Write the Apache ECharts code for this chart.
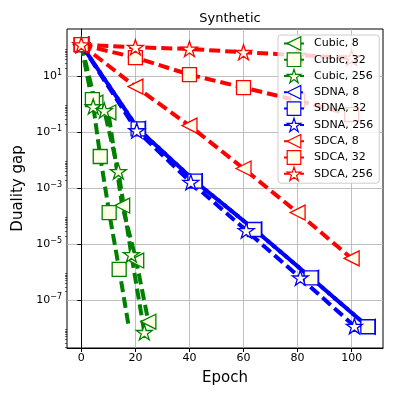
<!DOCTYPE html>
<html><head><meta charset="utf-8">
<script src="https://cdn.jsdelivr.net/npm/echarts@6/dist/echarts.min.js"></script>
<style>html,body{margin:0;padding:0;background:#fff}#c{width:399px;height:399px}</style>
</head><body><div id="c"></div>
<script>
// ---- data (epoch, duality gap) ----
const cubic8Epoch  = [0, 5.2, 10.0, 15.1, 20.3, 24.8];
const cubic8Gap    = [135, 1.15, 0.51, 2.4e-4, 2.6e-6, 1.7e-8];
const cubic32Epoch = [0, 4.1, 7.0, 10.3, 14.0, 17.4];
const cubic32Gap   = [135, 1.47, 0.0136, 1.35e-4, 1.26e-6, 1.36e-8];
const cubic32Marks = [0, 1, 2, 3, 4];
const cubic256Epoch = [0, 4.4, 8.5, 13.7, 18.5, 23.3];
const cubic256Gap   = [135, 0.83, 0.60, 4.0e-3, 4.3e-6, 7.1e-9];
const sdna8Epoch   = [0, 21, 42, 64, 85, 106];
const sdna8Gap     = [135, 0.132, 1.78e-3, 3.35e-5, 6.3e-7, 1.12e-8];
const sdna32Epoch  = [0, 21, 42, 64, 85, 106];
const sdna32Gap    = [135, 0.132, 1.78e-3, 3.35e-5, 6.3e-7, 1.12e-8];
const sdna256Epoch = [0, 20.5, 40.5, 61, 81, 101];
const sdna256Gap   = [135, 0.115, 1.64e-3, 3.08e-5, 6.3e-7, 1.18e-8];
const sdca8Epoch   = [0, 20, 40, 60, 80, 100];
const sdca8Gap     = [135, 4.28, 0.173, 5.06e-3, 1.35e-4, 3.1e-6];
const sdca32Epoch  = [0, 20, 40, 60, 80, 100];
const sdca32Gap    = [135, 46.5, 11.5, 3.95, 1.36, 0.43];
const sdca256Epoch = [0, 20, 40, 60, 80, 100];
const sdca256Gap   = [135, 109, 95, 72, 57, 45];

const xTicks = [0, 20, 40, 60, 80, 100];
const yTickExponents = [1, -1, -3, -5, -7];
const yMinorMantissas = [2, 3, 4, 5, 6, 7, 8, 9];
const yMinorExponents = [1, -1, -3, -5, -7, -9];

// ---- styling helpers ----
const FONT = 'DejaVu Sans';
const FACE = '#ffffe8';
function starPath() {
  let p = '';
  for (let i = 0; i < 10; i++) {
    const r = i % 2 === 0 ? 1 : 0.382;
    const a = -Math.PI / 2 + i * Math.PI / 5;
    p += (i ? 'L' : 'M') + (50 + 50 * r * Math.cos(a)).toFixed(2) + ',' + (50 + 50 * r * Math.sin(a)).toFixed(2) + ' ';
  }
  return 'path://' + p + 'Z';
}
const SYM = {
  tri: 'path://M0,50 L100,0 L100,100 Z',
  sq: 'rect',
  star: starPath()
};
const SIZE = { tri: 15, sq: 14, star: 16 };

function mk(name, color, sym, xs, ys, marks, dashOffset) {
  return {
    name, type: 'line', symbol: SYM[sym], symbolSize: SIZE[sym], symbolKeepAspect: true,
    showSymbol: true, showAllSymbol: true, animation: false, clip: true,
    lineStyle: { color, width: 4, type: [11, 5], dashOffset: dashOffset || 0 },
    itemStyle: { color: FACE, borderColor: color, borderWidth: 1.3 },
    emphasis: { disabled: true },
    data: xs.map((x, i) => (!marks || marks.includes(i)) ? [x, ys[i]] : { value: [x, ys[i]], symbol: 'none' })
  };
}

function fmtExp(v) {
  const e = Math.round(Math.log10(v));
  return '10{sup|' + (e < 0 ? '−' + (-e) : String(e)) + '}';
}

const minorVals = [];
yMinorExponents.forEach(e => yMinorMantissas.forEach(m => minorVals.push(m * Math.pow(10, e))));
const yMin = Math.pow(10, -8.71), yMax = Math.pow(10, 2.69);

const chart = echarts.init(document.getElementById('c'), null, { renderer: 'canvas' });
chart.setOption({
  animation: false,
  backgroundColor: '#fff',
  textStyle: { fontFamily: FONT },
  title: {
    text: 'Synthetic', left: 225, top: 7, textAlign: 'center',
    textStyle: { fontFamily: FONT, fontSize: 13, fontWeight: 'normal', color: '#000' }
  },
  grid: { left: 67, top: 29, width: 316, height: 319, show: true, borderColor: '#000', borderWidth: 1, backgroundColor: 'transparent', containLabel: false },
  legend: {
    orient: 'vertical', left: 278, top: 35,
    itemWidth: 20, itemHeight: 17, itemGap: 1.5,
    padding: [1, 6, 2, 5],
    backgroundColor: 'rgba(255,255,255,0.8)', borderColor: '#cccccc', borderWidth: 1, borderRadius: 3,
    itemStyle: { borderWidth: 1.2 },
    textStyle: { fontFamily: FONT, fontSize: 11, color: '#000', padding: [0, 0, 0, 5] },
    z: 10
  },
  xAxis: {
    type: 'value', min: -5.3, max: 111.6,
    name: 'Epoch', nameLocation: 'middle', nameGap: 23,
    nameTextStyle: { fontFamily: FONT, fontSize: 15, color: '#000' },
    axisLine: { show: true, lineStyle: { color: '#000', width: 1 } },
    axisTick: { show: true, length: 4, inside: false, customValues: xTicks, lineStyle: { color: '#000' } },
    axisLabel: { customValues: xTicks, fontFamily: FONT, fontSize: 11, color: '#000', margin: 5 },
    splitLine: { show: true, lineStyle: { color: '#b0b0b0', width: 0.8 } }
  },
  yAxis: [{
    type: 'log', logBase: 10, min: yMin, max: yMax,
    name: 'Duality gap', nameLocation: 'middle', nameGap: 34,
    nameTextStyle: { fontFamily: FONT, fontSize: 15, color: '#000' },
    axisLine: { show: true, lineStyle: { color: '#000', width: 1 } },
    axisTick: { show: true, length: 4, inside: false, customValues: yTickExponents.map(e => Math.pow(10, e)), lineStyle: { color: '#000' } },
    axisLabel: {
      customValues: yTickExponents.map(e => Math.pow(10, e)),
      formatter: fmtExp, fontFamily: FONT, fontSize: 11, color: '#000', margin: 5,
      rich: { sup: { fontFamily: FONT, fontSize: 8, padding: [0, 0, 7, 0], color: '#000' } }
    },
    splitLine: { show: true, lineStyle: { color: '#b0b0b0', width: 0.8 } }
  }, {
    type: 'log', logBase: 10, min: yMin, max: yMax, position: 'left',
    axisLine: { show: false },
    axisTick: { show: true, length: 2, inside: false, customValues: minorVals, lineStyle: { color: '#000', width: 0.6 } },
    axisLabel: { show: false },
    splitLine: { show: false }
  }],
  series: [
    mk('Cubic, 8', '#008000', 'tri', cubic8Epoch, cubic8Gap),
    mk('Cubic, 32', '#008000', 'sq', cubic32Epoch, cubic32Gap, cubic32Marks),
    mk('Cubic, 256', '#008000', 'star', cubic256Epoch, cubic256Gap),
    mk('SDNA, 8', '#0000ff', 'tri', sdna8Epoch, sdna8Gap, null, 8),
    mk('SDNA, 32', '#0000ff', 'sq', sdna32Epoch, sdna32Gap),
    mk('SDNA, 256', '#0000ff', 'star', sdna256Epoch, sdna256Gap),
    mk('SDCA, 8', '#ff0000', 'tri', sdca8Epoch, sdca8Gap),
    mk('SDCA, 32', '#ff0000', 'sq', sdca32Epoch, sdca32Gap),
    mk('SDCA, 256', '#ff0000', 'star', sdca256Epoch, sdca256Gap)
  ]
});
</script></body></html>
